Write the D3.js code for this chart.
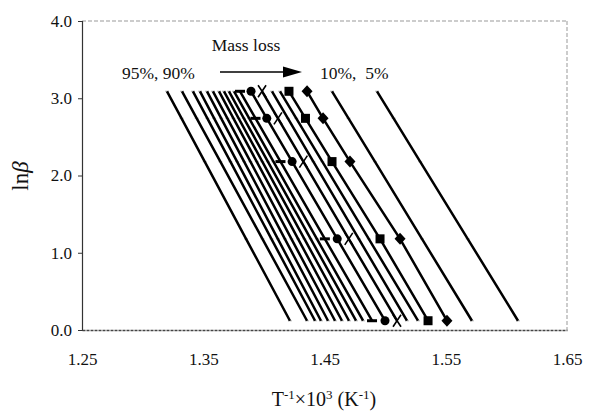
<!DOCTYPE html>
<html>
<head>
<meta charset="utf-8">
<script src="https://cdn.jsdelivr.net/npm/d3@7/dist/d3.min.js"></script>
<style>
  html, body { margin: 0; padding: 0; background: #fff; }
  svg { display: block; }
  text { font-family: "Liberation Serif", "Times New Roman", serif; fill: #111; }
</style>
</head>
<body>
<svg id="chart" width="589" height="415"></svg>
<script>
// ---- data ----
const conversions = ["95%","90%","85%","80%","75%","70%","65%","60%","55%","50%",
                     "45%","40%","35%","30%","25%","20%","15%","10%","5%"];
const lnBeta = [3.09, 2.74, 2.18, 1.18, 0.12];
// 1000/T values (K^-1 x 10^3) for each conversion, one value per heating rate row
const invT = [
  [1.3201, 1.3321, 1.3512, 1.3853, 1.4215], // 95%
  [1.3325, 1.3446, 1.3641, 1.3988, 1.4356], // 90%
  [1.3415, 1.3534, 1.3724, 1.4062, 1.4422], // 85%
  [1.3473, 1.3590, 1.3779, 1.4115, 1.4471], // 80%
  [1.3531, 1.3648, 1.3837, 1.4173, 1.4529], // 75%
  [1.3580, 1.3699, 1.3889, 1.4227, 1.4587], // 70%
  [1.3630, 1.3749, 1.3941, 1.4282, 1.4644], // 65%
  [1.3671, 1.3792, 1.3987, 1.4334, 1.4702], // 60%
  [1.3712, 1.3835, 1.4033, 1.4386, 1.4760], // 55%
  [1.3754, 1.3879, 1.4079, 1.4437, 1.4818], // 50%
  [1.3803, 1.3931, 1.4137, 1.4503, 1.4892], // 45%
  [1.3894, 1.4024, 1.4233, 1.4605, 1.4999], // 40%
  [1.3985, 1.4116, 1.4326, 1.4700, 1.5098], // 35%
  [1.4067, 1.4198, 1.4408, 1.4783, 1.5180], // 30%
  [1.4133, 1.4267, 1.4482, 1.4865, 1.5271], // 25%
  [1.4207, 1.4343, 1.4562, 1.4958, 1.5354], // 20%
  [1.4356, 1.4488, 1.4710, 1.5123, 1.5510], // 15%
  [1.4562, 1.4698, 1.4916, 1.5304, 1.5716], // 10%
  [1.4933, 1.5070, 1.5289, 1.5681, 1.6096]  // 5%
];
const xTickValues = [1.25, 1.35, 1.45, 1.55, 1.65];
const xTickLabels = ["1.25", "1.35", "1.45", "1.55", "1.65"];
const yTickValues = [0, 1, 2, 3, 4];
const yTickLabels = ["0.0", "1.0", "2.0", "3.0", "4.0"];

// ---- marker styling per conversion ----
const markerOf = {"45%": "dash", "40%": "circle", "35%": "x", "20%": "square", "15%": "diamond"};

const SERIF = '"Liberation Serif", "Times New Roman", serif';

// ---- layout ----
const svg = d3.select("#chart");
const L = 82, R = 567, T = 21, B = 330;
const x = d3.scaleLinear().domain([1.25, 1.65]).range([L, R]);
const y = d3.scaleLinear().domain([0, 4]).range([B, T]);

// frame: dashed top/right
svg.append("line").attr("x1", L).attr("x2", R).attr("y1", T).attr("y2", T)
  .attr("stroke", "#999").attr("stroke-width", 1).attr("stroke-dasharray", "4,2");
svg.append("line").attr("x1", R).attr("x2", R).attr("y1", T).attr("y2", B)
  .attr("stroke", "#999").attr("stroke-width", 1).attr("stroke-dasharray", "4,2");

// axes
const yAxis = d3.axisLeft(y).tickValues(yTickValues)
  .tickFormat((d, i) => yTickLabels[i]).tickSize(4).tickPadding(6);
const gy = svg.append("g").attr("transform", `translate(${L},0)`).call(yAxis);
gy.attr("font-family", null).style("font-family", SERIF);
gy.select(".domain").attr("stroke", "#333").attr("stroke-width", 1.2);
gy.selectAll(".tick line").attr("stroke", "#333");
gy.selectAll("text").style("font-family", SERIF).attr("font-size", 17).attr("fill", "#111");

const xAxis = d3.axisBottom(x).tickValues(xTickValues)
  .tickFormat((d, i) => xTickLabels[i]).tickSize(0).tickPadding(23);
const gx = svg.append("g").attr("transform", `translate(0,${B})`).call(xAxis);
gx.attr("font-family", null).style("font-family", SERIF);
gx.select(".domain").attr("stroke", "#444").attr("stroke-width", 1.3).attr("stroke-dasharray", "3,1");
gx.selectAll("text").style("font-family", SERIF).attr("font-size", 17).attr("fill", "#111");

// series data
const series = conversions.map((c, i) => ({
  name: c,
  pts: lnBeta.map((lb, j) => ({x: invT[i][j], y: lb}))
}));

const line = d3.line().x(d => x(d.x)).y(d => y(d.y));

// faint gray markers for series without distinct markers
const faint = svg.append("g");
series.filter(s => !markerOf[s.name]).forEach(s => {
  faint.selectAll(null).data(s.pts).join("rect")
    .attr("x", d => x(d.x) - 2).attr("y", d => y(d.y) - 0.7)
    .attr("width", 4).attr("height", 1.4).attr("fill", "#c8c8c8");
});

svg.append("g").selectAll("path").data(series).join("path")
  .attr("d", d => line(d.pts))
  .attr("fill", "none").attr("stroke", "#000").attr("stroke-width", 2.5);

// distinct markers
const mk = svg.append("g");
series.filter(s => markerOf[s.name]).forEach(s => {
  const type = markerOf[s.name];
  const g = mk.selectAll(null).data(s.pts).join("g")
    .attr("transform", d => `translate(${x(d.x)},${y(d.y)})`);
  if (type === "square") {
    g.append("rect").attr("x", -4.5).attr("y", -4.5).attr("width", 9).attr("height", 9).attr("fill", "#000");
  } else if (type === "diamond") {
    g.append("path").attr("d", "M0,-6L5.5,0L0,6L-5.5,0Z").attr("fill", "#000");
  } else if (type === "circle") {
    g.append("circle").attr("r", 4.5).attr("fill", "#000");
  } else if (type === "x") {
    g.append("path").attr("d", "M-4,-6L4,6M4,-6L-4,6").attr("stroke", "#000").attr("stroke-width", 1.6);
  } else if (type === "dash") {
    g.append("rect").attr("x", -5).attr("y", -1.5).attr("width", 10).attr("height", 3).attr("fill", "#000");
  }
});

// annotations
svg.append("text").attr("x", 246).attr("y", 51).attr("text-anchor", "middle")
  .attr("font-size", 17.5).text("Mass loss");
svg.append("text").attr("x", 122).attr("y", 79).attr("font-size", 17.5).text("95%, 90%");
svg.append("text").attr("x", 320).attr("y", 79).attr("font-size", 17.5).attr("xml:space", "preserve").text("10%,  5%");
svg.append("line").attr("x1", 220).attr("x2", 285).attr("y1", 72).attr("y2", 72)
  .attr("stroke", "#000").attr("stroke-width", 1.5);
svg.append("path").attr("d", "M283,66.5L302,72L283,77.5Z").attr("fill", "#000");

// axis titles
const yt = svg.append("text").attr("transform", "translate(28,176) rotate(-90)")
  .attr("text-anchor", "middle").attr("font-size", 23);
yt.append("tspan").text("ln");
yt.append("tspan").attr("font-style", "italic").text("β");

const xt = svg.append("text").attr("x", 324).attr("y", 406).attr("text-anchor", "middle").attr("font-size", 20);
xt.append("tspan").text("T");
xt.append("tspan").attr("font-size", 13).attr("dy", -7).text("-1");
xt.append("tspan").attr("dy", 7).text("×10");
xt.append("tspan").attr("font-size", 13).attr("dy", -7).text("3");
xt.append("tspan").attr("dy", 7).text(" (K");
xt.append("tspan").attr("font-size", 13).attr("dy", -7).text("-1");
xt.append("tspan").attr("dy", 7).text(")");
</script>
</body>
</html>
